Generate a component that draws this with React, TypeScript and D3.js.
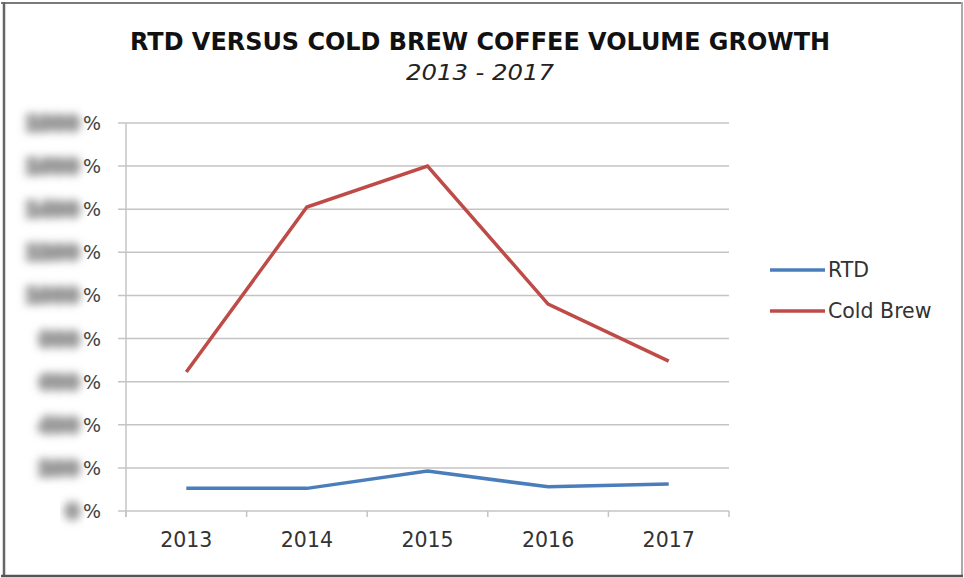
import React from "react";
import * as d3 from "d3";

const years = ["2013", "2014", "2015", "2016", "2017"];
const rtd = [105, 105, 185, 112, 125];
const coldBrew = [645, 1410, 1600, 960, 695];
const yTicks = [0, 200, 400, 600, 800, 1000, 1200, 1400, 1600, 1800];

const series = [
  { name: "RTD", values: rtd, color: "#4a7ebb" },
  { name: "Cold Brew", values: coldBrew, color: "#be4b48" },
];

const W = 964;
const H = 578;
const font = "'DejaVu Sans', Verdana, sans-serif";

export default function App() {
  const x = d3.scaleBand().domain(years).range([126, 729]);
  const y = d3.scaleLinear().domain([0, 1800]).range([511, 123]);
  const line = d3
    .line<number>()
    .x((_, i) => x(years[i])! + x.bandwidth() / 2)
    .y((d) => y(d));

  const tickEdges = [...years.map((yr) => x(yr)!), 729];

  return (
    <svg
      width={W}
      height={H}
      style={{ position: "absolute", left: 0, top: 0, background: "#fff" }}
    >
      <defs>
        <filter id="blur" x="-40%" y="-100%" width="180%" height="300%">
          <feGaussianBlur stdDeviation="4.5" />
        </filter>
      </defs>
      <rect x={0} y={0} width={W} height={H} fill="#fff" />
      {/* frame */}
      <line x1={1} y1={3} x2={963} y2={3} stroke="#7a7a7a" strokeWidth={2} />
      <line x1={4} y1={2} x2={4} y2={577} stroke="#666" strokeWidth={2.5} />
      <line x1={962} y1={2} x2={962} y2={577} stroke="#aaa" strokeWidth={2} />
      <line x1={1} y1={576} x2={963} y2={576} stroke="#555" strokeWidth={2.5} />

      {/* title */}
      <text
        x={480}
        y={50}
        textAnchor="middle"
        fontFamily={font}
        fontWeight="bold"
        fontSize={24}
        fill="#111"
        textLength={700}
        lengthAdjust="spacingAndGlyphs"
      >
        RTD VERSUS COLD BREW COFFEE VOLUME GROWTH
      </text>
      <text
        x={480}
        y={80}
        textAnchor="middle"
        fontFamily={font}
        fontStyle="italic"
        fontSize={21}
        fill="#222"
        textLength={148}
        lengthAdjust="spacingAndGlyphs"
      >
        2013 - 2017
      </text>

      {/* gridlines + y labels */}
      {yTicks.map((t) => (
        <g key={t}>
          <line
            x1={118}
            x2={729}
            y1={y(t)}
            y2={y(t)}
            stroke="#c4c4c4"
            strokeWidth={1.5}
          />
          <text
            x={79}
            y={y(t) + 7}
            textAnchor="end"
            fontFamily={font}
            fontWeight="bold"
            fontSize={19}
            fill="#9a9a9a"
            stroke="#9a9a9a"
            strokeWidth={5}
            filter="url(#blur)"
          >
            {t}
          </text>
          <text
            x={83}
            y={y(t) + 7}
            textAnchor="start"
            fontFamily={font}
            fontSize={19}
            fill="#444"
          >
            %
          </text>
        </g>
      ))}

      {/* axes */}
      <line x1={126} x2={126} y1={123} y2={517} stroke="#c4c4c4" strokeWidth={1.5} />
      {tickEdges.map((tx, i) => (
        <line key={i} x1={tx} x2={tx} y1={511} y2={517} stroke="#c4c4c4" strokeWidth={1.5} />
      ))}
      {years.map((yr) => (
        <text
          key={yr}
          x={x(yr)! + x.bandwidth() / 2}
          y={547}
          textAnchor="middle"
          fontFamily={font}
          fontSize={20.5}
          fill="#333"
        >
          {yr}
        </text>
      ))}

      {/* series */}
      {series.map((s) => (
        <path
          key={s.name}
          d={line(s.values) ?? ""}
          fill="none"
          stroke={s.color}
          strokeWidth={3.5}
        />
      ))}

      {/* legend */}
      {series.map((s, i) => (
        <g key={s.name} transform={`translate(770, ${270 + i * 41})`}>
          <line x1={0} x2={55} y1={0} y2={0} stroke={s.color} strokeWidth={3.5} />
          <text x={58} y={7} fontFamily={font} fontSize={20.5} fill="#333">
            {s.name}
          </text>
        </g>
      ))}
    </svg>
  );
}
